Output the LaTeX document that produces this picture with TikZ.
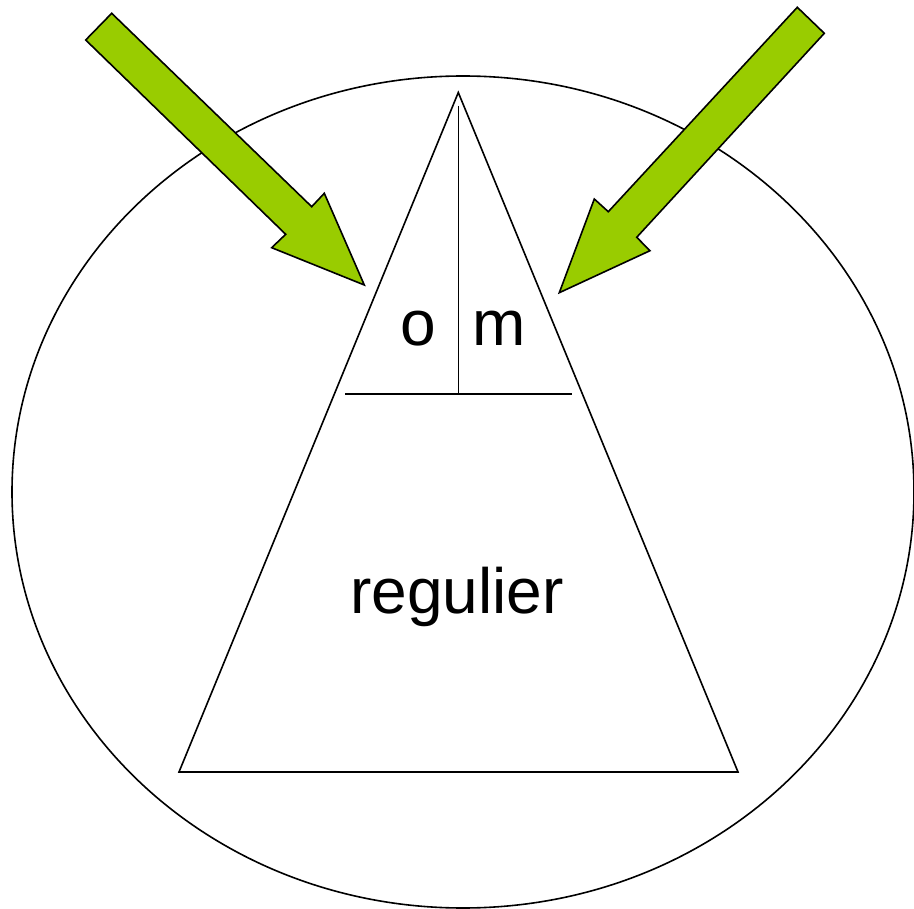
\documentclass[tikz,border=0pt]{standalone}
\usepackage{fontspec}
\setmainfont{Liberation Sans}
\definecolor{arrowgreen}{RGB}{153,204,0}
\tikzset{
  outline/.style={draw=black, line width=1.6pt, line join=miter},
  bigarrow/.style={draw=black, line width=1.6pt, fill=arrowgreen, line join=miter},
  lbl/.style={font=\fontsize{64}{70}\selectfont, inner sep=0pt, anchor=base}
}
\begin{document}
\begin{tikzpicture}[x=1pt, y=-1pt]
\useasboundingbox (0,0) rectangle (914,909);
% ellipse
\draw[outline] (463,492) ellipse [x radius=451, y radius=416];
% triangle
\coordinate (apex) at (458.3,92.5);
\coordinate (bl) at (179,772);
\coordinate (br) at (738,772);
\draw[outline] (apex) -- (bl) -- (br) -- cycle;
% inner lines
\coordinate (vtop) at (458.3,106);
\coordinate (vbot) at (458.3,394);
\coordinate (hl) at (345,394);
\coordinate (hr) at (572,394);
\draw[outline] (vtop) -- (vbot);
\draw[outline] (hl) -- (hr);
% labels
\node[lbl] (o) at (418,346) {o};
\node[lbl] (m) at (499,346) {m};
\node[lbl] (reg) at (457,613) {regulier};
% left arrow
\draw[bigarrow] (111.7,13.3) -- (311.7,206.7) -- (324.3,193.3) -- (364.3,285)
  -- (271.7,247.7) -- (285.7,234.3) -- (85.7,40) -- cycle;
% right arrow
\draw[bigarrow] (797.3,7.3) -- (824.3,33.3) -- (636.7,237.3) -- (650,250.7)
  -- (559.3,292.7) -- (594.3,199) -- (608.3,211.7) -- cycle;
\end{tikzpicture}
\end{document}
